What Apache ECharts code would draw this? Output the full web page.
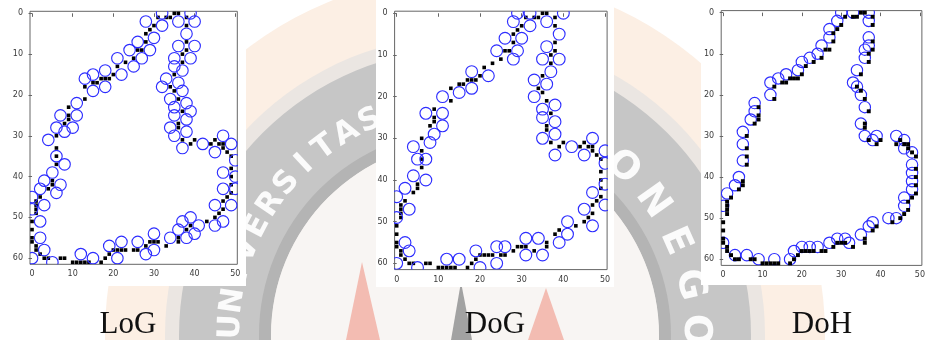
<!DOCTYPE html>
<html>
<head>
<meta charset="utf-8">
<script src="https://cdn.jsdelivr.net/npm/echarts@6/dist/echarts.min.js"></script>
<style>
  html, body { margin: 0; padding: 0; background: #fff; }
  #chart { width: 928px; height: 340px; }
</style>
</head>
<body>
<div id="chart"></div>
<script>
// edge image pixels [col, row], same picture under all three detectors
const edgePixels = [
  [35,0],[36,0],[31,1],[33,1],[34,1],[38,1],[30,3],[38,3],[29,4],[28,5],[28,7],[38,7],
  [26,9],[27,9],[38,9],[37,10],[25,11],[23,12],[37,12],[21,13],[20,15],[35,15],
  [17,16],[18,16],[19,16],[15,17],[16,17],[13,18],[34,18],[35,19],[13,21],[36,21],
  [9,23],[37,24],[9,25],[9,26],[8,27],[36,27],[36,28],[6,30],[37,31],[40,31],[45,31],
  [39,32],[44,32],[46,32],[47,32],[6,33],[47,33],[48,34],[6,35],[49,35],[6,37],[49,38],
  [49,40],[5,41],[5,42],[49,42],[4,43],[49,44],[2,45],[48,45],[1,46],[47,46],[1,47],
  [1,48],[47,48],[1,49],[46,49],[45,50],[0,51],[43,51],[39,52],[0,53],[38,53],[0,55],
  [36,55],[0,56],[29,56],[30,56],[31,56],[36,56],[1,57],[28,57],[33,57],[1,58],
  [20,58],[21,58],[22,58],[23,58],[25,58],[26,58],[2,59],[19,59],[3,60],[4,60],[7,60],
  [8,60],[18,60],[10,61],[11,61],[12,61],[13,61],[14,61],[17,61]
];

// detected blob centres [col, row]
const logBlobs = [
  [32,0],[39,0],[28,2],[32,3],[36,2],[40,2],[38,5],[30,6],[26,7],[36,8],[40,8],[24,9],
  [29,9],[27,11],[35,11],[39,11],[21,11],[25,13],[35,13],[18,14],[22,15],[37,14],[15,15],
  [13,16],[33,16],[36,17],[15,19],[18,18],[32,18],[37,19],[34,21],[11,22],[38,22],[35,23],
  [39,24],[35,25],[7,25],[11,25],[38,26],[6,28],[10,28],[8,29],[34,28],[38,29],[35,30],
  [4,31],[37,33],[42,32],[45,34],[47,30],[49,32],[50,36],[6,35],[8,37],[47,39],[50,40],
  [50,43],[5,39],[3,41],[7,42],[2,43],[6,44],[47,43],[0,45],[3,47],[0,48],[2,51],[45,47],
  [49,47],[37,51],[39,50],[41,52],[45,52],[47,51],[36,53],[40,54],[38,55],[34,55],[30,54],
  [2,55],[22,56],[26,56],[19,57],[3,58],[30,58],[28,59],[12,59],[0,60],[15,60],[21,60],[5,61]
];
const dogBlobs = [
  [29,0],[32,0],[40,0],[28,2],[32,3],[36,2],[39,5],[26,6],[30,6],[36,8],[24,9],[29,9],
  [28,11],[35,11],[39,11],[37,14],[18,14],[22,15],[33,16],[36,17],[18,18],[15,19],[11,20],
  [33,20],[38,22],[35,23],[7,24],[11,24],[35,25],[38,26],[11,27],[9,29],[38,29],[8,31],
  [35,30],[4,32],[47,30],[42,32],[50,33],[38,34],[45,34],[5,35],[7,35],[50,36],[4,39],
  [7,40],[2,42],[50,41],[47,43],[0,44],[3,47],[45,47],[50,46],[0,49],[47,51],[41,50],
  [41,53],[39,55],[2,55],[3,57],[31,54],[34,54],[24,56],[26,56],[19,57],[31,58],[35,58],
  [12,59],[15,59],[24,60],[0,60],[5,61],[20,61]
];
const dohBlobs = [
  [30,0],[33,0],[37,0],[29,2],[37,2],[27,4],[27,6],[37,6],[25,8],[37,8],[36,9],[24,10],
  [36,11],[22,11],[20,12],[19,14],[34,14],[16,15],[14,16],[12,17],[33,17],[34,18],[35,20],
  [12,20],[8,22],[8,24],[7,26],[36,23],[35,27],[5,29],[36,30],[39,30],[44,30],[46,31],
  [5,32],[38,31],[46,33],[48,34],[48,37],[48,39],[48,41],[48,43],[5,36],[4,40],[3,42],
  [1,44],[0,47],[46,45],[46,47],[44,50],[42,50],[38,51],[37,52],[35,54],[0,56],[3,59],
  [6,59],[9,60],[13,60],[17,60],[18,58],[20,57],[22,57],[24,57],[27,56],[29,55],[31,55],[32,56]
];

const panelTitles = ["LoG", "DoG", "DoH"];
const colTicks = [0, 10, 20, 30, 40, 50];
const rowTicks = [0, 10, 20, 30, 40, 50, 60];

const blobRadius = Math.SQRT2;
const blue = "#2e2eff";
const frame = "#666666";
const labelColor = "#3a3a3a";

const panels = [
  { left: 30, top: 11.3, width: 207.3, height: 253, sheet: [0, 0, 246, 286], cap: 128, px: 3.6 },
  { left: 394.6, top: 11.2, width: 212.5, height: 258.4, sheet: [376, 0, 238, 287], cap: 495, px: 3.6 },
  { left: 721.2, top: 10.6, width: 209.6, height: 254.8, sheet: [701, 0, 227, 285], cap: 822, px: 3.9 },
];
const blobSets = [logBlobs, dogBlobs, dohBlobs];

// faded seal behind the figure
const seal = [465, 335];
function arcLetters(word, startDeg, stepDeg, r, size) {
  return word.split("").map((ch, i) => {
    const a = ((startDeg + i * stepDeg) * Math.PI) / 180;
    return {
      type: "text",
      z: -8,
      x: seal[0] + r * Math.cos(a),
      y: seal[1] + r * Math.sin(a),
      rotation: -(a + Math.PI / 2),
      style: {
        text: ch,
        fill: "#fbfbfb",
        font: `bold ${size}px "DejaVu Sans"`,
        align: "center",
        verticalAlign: "middle",
      },
    };
  });
}

const watermark = [
  { type: "circle", z: -10, shape: { cx: seal[0], cy: seal[1], r: 360 }, style: { fill: "#fcefe4" } },
  { type: "circle", z: -10, shape: { cx: seal[0], cy: seal[1], r: 300 }, style: { fill: "#ebe6e2" } },
  { type: "ring", z: -9, shape: { cx: seal[0], cy: seal[1], r: 286, r0: 194 }, style: { fill: "#c6c6c6" } },
  { type: "ring", z: -9, shape: { cx: seal[0], cy: seal[1], r: 206, r0: 194 }, style: { fill: "#b4b4b4" } },
  { type: "circle", z: -9, shape: { cx: seal[0], cy: seal[1], r: 194 }, style: { fill: "#f8f5f3" } },
  { type: "polygon", z: -8, shape: { points: [[346, 340], [362, 262], [380, 340]] }, style: { fill: "#f3bcb2" } },
  { type: "polygon", z: -8, shape: { points: [[528, 340], [546, 288], [564, 340]] }, style: { fill: "#f3bcb2" } },
  { type: "polygon", z: -8, shape: { points: [[451, 340], [461, 282], [472, 340]] }, style: { fill: "#a2a2a2" } },
  ...arcLetters("UNIVERSITAS", -178, 6.4, 234, 31),
  ...arcLetters("DIPONEGORO", -81, 11.4, 230, 38),
];

const sheets = panels.map((p) => ({
  type: "rect",
  z: -5,
  shape: { x: p.sheet[0], y: p.sheet[1], width: p.sheet[2], height: p.sheet[3] },
  style: { fill: "#ffffff" },
}));

const captions = panels.map((p, i) => ({
  type: "text",
  z: 10,
  x: p.cap,
  y: 324.5,
  style: {
    text: panelTitles[i],
    fill: "#111111",
    font: '31px "Liberation Serif"',
    align: "center",
    verticalAlign: "middle",
  },
}));

const axisCommon = {
  type: "value",
  axisLine: { show: false },
  splitLine: { show: false },
  axisTick: { show: true, length: 3.5, lineStyle: { color: frame, width: 1 } },
  axisLabel: { color: labelColor, fontSize: 8, fontFamily: "DejaVu Sans" },
};

const chart = echarts.init(document.getElementById("chart"), null, { renderer: "canvas" });

chart.setOption({
  animation: false,
  backgroundColor: "#ffffff",
  graphic: { elements: [...watermark, ...sheets, ...captions] },
  grid: panels.map((p) => ({
    left: p.left,
    top: p.top,
    width: p.width,
    height: p.height,
    show: true,
    backgroundColor: "#ffffff",
    borderColor: frame,
    borderWidth: 1,
    containLabel: false,
  })),
  xAxis: panels.map((p, i) => ({
    ...axisCommon,
    gridIndex: i,
    min: -0.5,
    max: 50.5,
    axisTick: { ...axisCommon.axisTick, customValues: colTicks },
    axisLabel: { ...axisCommon.axisLabel, margin: 6, customValues: colTicks },
  })),
  yAxis: panels.map((p, i) => ({
    ...axisCommon,
    gridIndex: i,
    min: -0.5,
    max: 61.5,
    inverse: true,
    axisTick: { ...axisCommon.axisTick, customValues: rowTicks },
    axisLabel: { ...axisCommon.axisLabel, margin: 7, customValues: rowTicks },
  })),
  series: panels.flatMap((p, i) => [
    {
      type: "scatter",
      xAxisIndex: i,
      yAxisIndex: i,
      data: edgePixels,
      symbol: "rect",
      symbolSize: p.px,
      itemStyle: { color: "#000000", opacity: 1 },
      silent: true,
      z: i === 2 ? 4 : 2,
    },
    {
      type: "custom",
      xAxisIndex: i,
      yAxisIndex: i,
      data: blobSets[i],
      clip: true,
      silent: true,
      z: 3,
      renderItem: (params, api) => {
        const c = api.coord([api.value(0), api.value(1)]);
        const s = api.size([blobRadius, blobRadius]);
        return {
          type: "circle",
          shape: { cx: c[0], cy: c[1], r: (s[0] + s[1]) / 2 },
          style: { fill: "none", stroke: blue, lineWidth: 1.15 },
        };
      },
    },
  ]),
});
</script>
</body>
</html>
